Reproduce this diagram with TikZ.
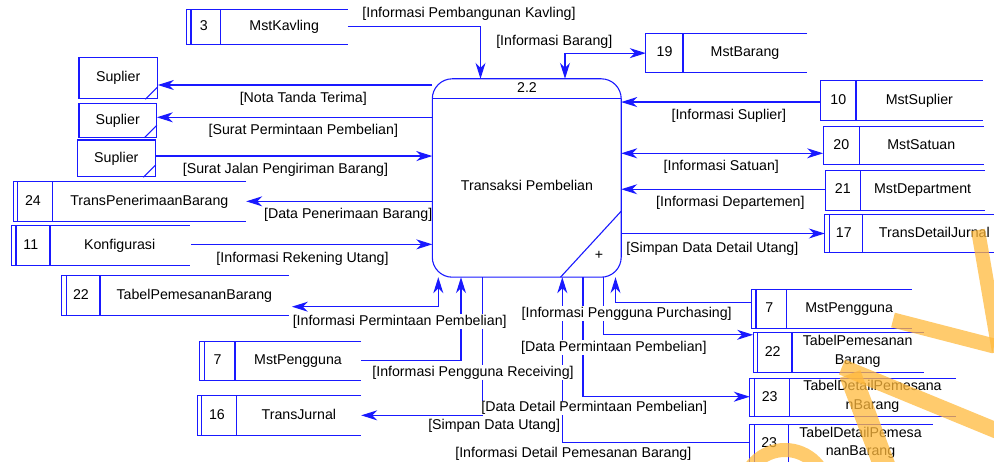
\documentclass[tikz,border=0pt]{standalone}
\usepackage{fontspec}
\setmainfont{Liberation Sans}
\usetikzlibrary{arrows.meta,fit,calc}

\definecolor{flowblue}{RGB}{25,25,255}
\definecolor{markorange}{RGB}{255,185,60}

\tikzset{
  flow/.style={draw=flowblue, line width=1.1pt},
  txt/.style={font=\fontsize{14.2pt}{18.5pt}\selectfont, inner sep=0pt, text=black,
              text height=10.5pt, text depth=3pt},
  nametxt/.style={font=\fontsize{14.2pt}{18.5pt}\selectfont, inner sep=0pt, text=black,
              align=center, execute at begin node=\strut, execute at end node=\strut},
  lbl/.style={txt, fill=white, inner sep=0.5pt},
  band/.style={draw=markorange, opacity=0.75, line cap=butt},
}

% data store: name, left, top, right, bottom, divider x, number, title, double left edge (1/0)
\newcommand\dstore[9]{%
  \node[fit={(#2,#3) (#4,#5)}, inner sep=0pt] (#1) {};
  \draw[flow] (#1.north east) -- (#1.north west) -- (#1.south west) -- (#1.south east);
  \draw[flow] (#6,#3) -- (#6,#5);
  \ifnum#9=1 \draw[flow] (#2+4.3,#3) -- (#2+4.3,#5);\fi
  \node[txt] (#1-no) at ($(#2,#3)!.5!(#6,#5)$) {#7};
  \node[nametxt] (#1-name) at ($(#6,#3)!.5!(#4,#5)$) {#8};
}

% external entity: name, left, top, right, bottom, title
\newcommand\entity[6]{%
  \node[fit={(#2,#3) (#4,#5)}, inner sep=0pt, flow] (#1) {};
  \node[txt] (#1-name) at (#1.center) {#6};
  \draw[flow] ([xshift=-12.5pt]#1.south east) -- ([yshift=12.5pt]#1.south east);
}

\begin{document}
\begin{tikzpicture}[x=1pt, y=-1pt, >={Stealth[length=16pt,width=10pt,inset=5pt]}]
\useasboundingbox (0,0) rectangle (994,462);
\clip (0,0) rectangle (994,462);

% process 2.2 (outline drawn last)
\node[fit={(432.5,79) (621,277)}, inner sep=0pt] (proc) {};

% data stores
\dstore{kav}{186.7}{9.3}{347.7}{44.3}{220.7}{3}{MstKavling}{1}
\dstore{brg}{646}{34}{807}{72.3}{683}{19}{MstBarang}{0}
\dstore{sup}{820.7}{80.7}{982.7}{120}{856}{10}{MstSuplier}{0}
\dstore{sat}{823.3}{126.7}{983.3}{164.3}{859.3}{20}{MstSatuan}{0}
\dstore{dep}{825.3}{170.5}{985}{210}{860.3}{21}{MstDepartment}{0}
\dstore{tdj}{825}{214.3}{1006}{252.7}{862.7}{17}{TransDetailJurnal}{1}
\dstore{tpb}{13.3}{181.7}{246}{221}{52.7}{24}{TransPenerimaanBarang}{1}
\dstore{kfg}{11.7}{226}{189.3}{265.7}{50}{11}{Konfigurasi}{1}
\dstore{tpm}{62}{275.7}{288.7}{315.7}{100}{22}{TabelPemesananBarang}{1}
\dstore{pgl}{200}{341.7}{361}{380}{235}{7}{MstPengguna}{1}
\dstore{tj}{197.3}{395.7}{361}{435}{236.7}{16}{TransJurnal}{1}
\dstore{pgr}{751.7}{290}{911.7}{328.3}{786.7}{7}{MstPengguna}{1}
\dstore{tpm2}{753.3}{332.7}{923.3}{372.7}{792}{22}{TabelPemesanan\\Barang}{1}
\dstore{tdp1}{750}{378.7}{955.7}{416.7}{789.3}{23}{TabelDetailPemesana\\nBarang}{1}
\dstore{tdp2}{750}{424.3}{932.7}{463.5}{788.3}{23}{TabelDetailPemesa\\nanBarang}{1}

% external entities
\entity{e1}{79}{57.3}{157.3}{98.7}{Suplier}
\entity{e2}{79}{103.3}{156.3}{137.3}{Suplier}
\entity{e3}{77.3}{140}{155.3}{176.7}{Suplier}

% connector ports
\coordinate (p-sup) at ([yshift=-1.7pt]sup.west);
\coordinate (p-sat) at ([yshift=-7.8pt]sat.west);
\coordinate (p-dep) at ([yshift=1pt]dep.west);
\coordinate (p-e1) at ([yshift=-7pt]e1.east);
\coordinate (p-e2) at ([yshift=3pt]e2.east);
\coordinate (p-e3) at ([yshift=2.3pt]e3.east);
\coordinate (p-kfg) at ([xshift=1.7pt,yshift=1.5pt]kfg.east);
\coordinate (p-tpm) at ([xshift=3pt,yshift=-11pt]tpm.east);
\coordinate (p-tdp2) at ([yshift=-18.4pt]tdp2.north west);
\coordinate (p-tdp1) at ([yshift=1pt]tdp1.west);
\coordinate (p-tpm2) at ([yshift=-2.3pt]tpm2.north west);
\coordinate (p-pgr) at ([yshift=-12.7pt]pgr.north west);

% x positions of the vertical flows on the process box
\coordinate (gKav) at (480.5,0);
\coordinate (gBrg) at (565,0);
\coordinate (gIpp) at (438.3,0);
\coordinate (gRcv) at (461,0);
\coordinate (gSdu) at (482.8,0);
\coordinate (gIdp) at (562.3,0);
\coordinate (gDdp) at (583,0);
\coordinate (gDpp) at (603.3,0);
\coordinate (gPur) at (615.5,0);

% flows
\draw[flow,->] (kav.east) -| (proc.north -| gKav);
\draw[flow,<->] (proc.north -| gBrg) |- (brg.west);
\draw[flow,->] (p-sup) -- (proc.east |- p-sup);
\draw[flow,<->] (proc.east |- p-sat) -- (p-sat);
\draw[flow,->] (p-dep) -- (proc.east |- p-dep);
\draw[flow,->] (proc.east |- tdj.west) -- (tdj.west);
\draw[flow,->] (proc.west |- p-e1) -- (p-e1);
\draw[flow,->] (proc.west |- p-e2) -- (p-e2);
\draw[flow,->] (p-e3) -- (proc.west |- p-e3);
\draw[flow,->] (proc.west |- tpb.east) -- (tpb.east);
\draw[flow,->] (p-kfg) -- (proc.west |- p-kfg);
\draw[flow,<->] (proc.south -| gIpp) |- (p-tpm);
\draw[flow,->] (pgl.east) -| (proc.south -| gRcv);
\draw[flow,->] (proc.south -| gSdu) |- (tj.east);
\draw[flow,->] (p-tdp2) -| (proc.south -| gIdp);
\draw[flow,->] (proc.south -| gDdp) |- (p-tdp1);
\draw[flow,->] (proc.south -| gDpp) |- (p-tpm2);
\draw[flow,->] (p-pgr) -| (proc.south -| gPur);

% flow labels
\node[lbl] (l-kav) at (469,13.3) {[Informasi Pembangunan Kavling]};
\node[lbl] (l-brg) at (554.3,41.7) {[Informasi Barang]};
\node[lbl] (l-sup) at (728.8,116) {[Informasi Suplier]};
\node[lbl] (l-sat) at (721.3,166.7) {[Informasi Satuan]};
\node[lbl] (l-dep) at (730.4,202.3) {[Informasi Departemen]};
\node[lbl] (l-tdj) at (712.3,248.3) {[Simpan Data Detail Utang]};
\node[lbl] (l-e1) at (303.3,98.7) {[Nota Tanda Terima]};
\node[lbl] (l-e2) at (303.3,131) {[Surat Permintaan Pembelian]};
\node[lbl] (l-e3) at (285.5,170) {[Surat Jalan Pengiriman Barang]};
\node[lbl] (l-tpb) at (348.2,215) {[Data Penerimaan Barang]};
\node[lbl] (l-kfg) at (302.5,258.3) {[Informasi Rekening Utang]};
\node[lbl] (l-tpm) at (399.7,321.7) {[Informasi Permintaan Pembelian]};
\node[lbl] (l-pgl) at (473,372.3) {[Informasi Pengguna Receiving]};
\node[lbl] (l-tj) at (494.2,426) {[Simpan Data Utang]};
\node[lbl] (l-pgr) at (626.7,313.3) {[Informasi Pengguna Purchasing]};
\node[lbl] (l-tpm2) at (613.8,347.3) {[Data Permintaan Pembelian]};
\node[lbl] (l-tdp1) at (594.2,408) {[Data Detail Permintaan Pembelian]};
\node[lbl] (l-tdp2) at (573.3,454) {[Informasi Detail Pemesanan Barang]};

% process box
\draw[flow, rounded corners=20pt] (proc.north west) rectangle (proc.south east);
\draw[flow] ([yshift=-20pt]proc.north west) -- ([yshift=-20pt]proc.north east);
\draw[flow] ([yshift=66pt]proc.south east) -- ([xshift=-60.7pt]proc.south east);
\node[txt] (proc-id) at (527,88.5) {2.2};
\node[txt] (proc-name) at (527,187) {Transaksi Pembelian};
\node[txt] (proc-plus) at (599,256) {+};

% watermark strokes
\draw[band, line width=14pt] (978,230) -- (999,352);
\draw[band, line width=15pt] (893,320) -- (994,346);
\draw[band, line width=16pt] (842,367) -- (1000,432);
\draw[band, line width=22pt] (850,374) -- (886,470);
\draw[band, line width=14pt] (785,492) circle[radius=42];
\end{tikzpicture}
\end{document}
